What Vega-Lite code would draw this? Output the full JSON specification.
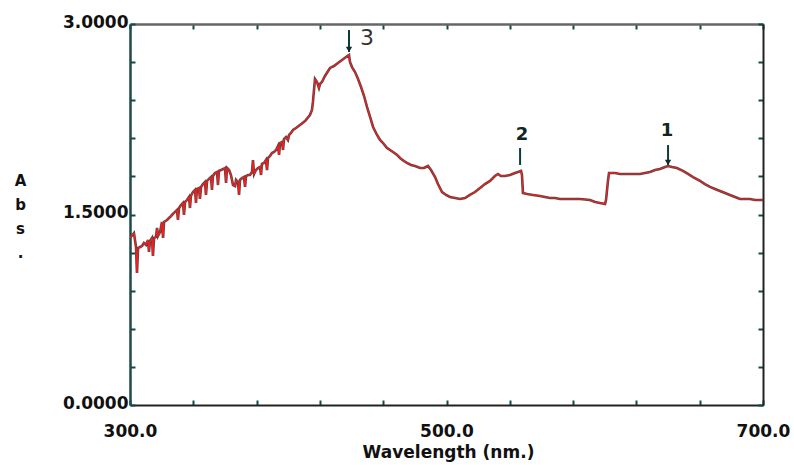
{
  "$schema": "https://vega.github.io/schema/vega-lite/v6.json",
  "width": 633,
  "height": 381,
  "autosize": "none",
  "padding": {"left": 130, "top": 24, "right": 31, "bottom": 60},
  "background": "white",
  "config": {"view": {"stroke": null}, "font": "DejaVu Sans"},
  "datasets": {
    "spec": [
      {"w":300.0,"a":1.315},{"w":302.5,"a":1.354},{"w":303.8,"a":1.244},{"w":304.4,"a":1.039},{"w":305.1,"a":1.236},
      {"w":307.6,"a":1.252},{"w":308.8,"a":1.276},{"w":310.1,"a":1.260},{"w":311.4,"a":1.299},{"w":312.0,"a":1.205},
      {"w":312.6,"a":1.291},{"w":313.9,"a":1.315},{"w":314.5,"a":1.173},{"w":315.2,"a":1.315},{"w":316.4,"a":1.323},
      {"w":317.1,"a":1.394},{"w":317.7,"a":1.331},{"w":319.0,"a":1.362},{"w":320.2,"a":1.441},{"w":320.9,"a":1.315},
      {"w":321.5,"a":1.441},{"w":323.4,"a":1.457},{"w":325.3,"a":1.480},{"w":326.5,"a":1.496},{"w":328.4,"a":1.520},
      {"w":329.7,"a":1.535},{"w":330.3,"a":1.457},{"w":331.0,"a":1.551},{"w":332.2,"a":1.575},{"w":333.5,"a":1.591},
      {"w":334.1,"a":1.496},{"w":334.8,"a":1.598},{"w":336.0,"a":1.614},{"w":337.3,"a":1.638},{"w":337.9,"a":1.551},
      {"w":338.5,"a":1.646},{"w":339.8,"a":1.677},{"w":341.1,"a":1.693},{"w":341.7,"a":1.591},{"w":342.3,"a":1.701},
      {"w":343.6,"a":1.709},{"w":344.2,"a":1.622},{"w":344.9,"a":1.717},{"w":346.1,"a":1.740},{"w":347.4,"a":1.756},
      {"w":348.0,"a":1.654},{"w":348.7,"a":1.764},{"w":349.9,"a":1.780},{"w":351.2,"a":1.795},{"w":351.8,"a":1.693},
      {"w":352.4,"a":1.803},{"w":353.7,"a":1.827},{"w":355.0,"a":1.835},{"w":355.6,"a":1.732},{"w":356.2,"a":1.843},
      {"w":357.5,"a":1.850},{"w":358.8,"a":1.858},{"w":360.0,"a":1.866},{"w":360.7,"a":1.748},{"w":361.3,"a":1.866},
      {"w":362.6,"a":1.850},{"w":363.8,"a":1.811},{"w":365.1,"a":1.732},{"w":366.4,"a":1.724},{"w":367.0,"a":1.772},
      {"w":368.2,"a":1.756},{"w":368.9,"a":1.654},{"w":369.5,"a":1.772},{"w":370.8,"a":1.787},{"w":372.0,"a":1.795},
      {"w":372.7,"a":1.717},{"w":373.3,"a":1.803},{"w":374.6,"a":1.811},{"w":375.8,"a":1.811},{"w":377.1,"a":1.835},
      {"w":377.7,"a":1.929},{"w":378.4,"a":1.819},{"w":379.6,"a":1.850},{"w":380.9,"a":1.866},{"w":382.1,"a":1.874},
      {"w":382.8,"a":1.811},{"w":383.4,"a":1.898},{"w":384.7,"a":1.906},{"w":385.9,"a":1.929},{"w":386.6,"a":1.850},
      {"w":387.2,"a":1.945},{"w":388.5,"a":1.961},{"w":389.7,"a":1.984},{"w":391.0,"a":1.992},{"w":392.3,"a":2.008},
      {"w":393.5,"a":2.039},{"w":394.2,"a":1.969},{"w":394.8,"a":2.063},{"w":396.0,"a":2.071},{"w":396.7,"a":2.008},
      {"w":397.3,"a":2.094},{"w":398.6,"a":2.110},{"w":399.8,"a":2.087},{"w":400.5,"a":2.126},{"w":401.7,"a":2.142},
      {"w":403.0,"a":2.165},{"w":404.9,"a":2.181},{"w":407.4,"a":2.205},{"w":410.6,"a":2.236},{"w":413.7,"a":2.283},
      {"w":415.0,"a":2.323},{"w":415.6,"a":2.386},{"w":416.9,"a":2.567},{"w":418.2,"a":2.543},{"w":419.4,"a":2.496},
      {"w":420.1,"a":2.528},{"w":421.3,"a":2.543},{"w":423.2,"a":2.591},{"w":426.4,"a":2.654},{"w":428.9,"a":2.669},
      {"w":431.4,"a":2.693},{"w":434.0,"a":2.717},{"w":436.5,"a":2.740},{"w":438.4,"a":2.756},{"w":439.0,"a":2.701},
      {"w":440.3,"a":2.661},{"w":442.2,"a":2.622},{"w":444.1,"a":2.567},{"w":446.0,"a":2.504},{"w":447.9,"a":2.433},
      {"w":449.8,"a":2.346},{"w":451.7,"a":2.268},{"w":453.6,"a":2.189},{"w":456.1,"a":2.126},{"w":458.0,"a":2.087},
      {"w":459.9,"a":2.063},{"w":462.4,"a":2.024},{"w":464.3,"a":2.008},{"w":466.2,"a":1.992},{"w":468.8,"a":1.969},
      {"w":470.6,"a":1.945},{"w":473.1,"a":1.921},{"w":475.0,"a":1.906},{"w":477.6,"a":1.890},{"w":480.1,"a":1.882},
      {"w":483.3,"a":1.866},{"w":485.8,"a":1.866},{"w":488.3,"a":1.882},{"w":490.2,"a":1.850},{"w":492.8,"a":1.795},
      {"w":494.6,"a":1.740},{"w":497.2,"a":1.677},{"w":499.7,"a":1.654},{"w":502.2,"a":1.638},{"w":505.4,"a":1.630},
      {"w":508.5,"a":1.622},{"w":511.7,"a":1.630},{"w":514.8,"a":1.654},{"w":518.0,"a":1.677},{"w":521.2,"a":1.709},
      {"w":524.3,"a":1.740},{"w":527.5,"a":1.764},{"w":530.6,"a":1.803},{"w":532.5,"a":1.819},{"w":534.4,"a":1.803},
      {"w":537.0,"a":1.803},{"w":540.1,"a":1.811},{"w":543.3,"a":1.827},{"w":545.2,"a":1.835},{"w":547.1,"a":1.843},
      {"w":547.7,"a":1.811},{"w":548.3,"a":1.669},{"w":550.9,"a":1.661},{"w":554.7,"a":1.654},{"w":559.1,"a":1.646},
      {"w":562.2,"a":1.638},{"w":565.4,"a":1.630},{"w":568.6,"a":1.630},{"w":571.7,"a":1.622},{"w":578.0,"a":1.622},
      {"w":584.4,"a":1.622},{"w":590.7,"a":1.614},{"w":593.9,"a":1.598},{"w":597.0,"a":1.591},{"w":600.2,"a":1.583},
      {"w":600.8,"a":1.614},{"w":602.1,"a":1.772},{"w":602.7,"a":1.827},{"w":606.5,"a":1.827},{"w":609.6,"a":1.819},
      {"w":616.0,"a":1.819},{"w":622.3,"a":1.819},{"w":625.4,"a":1.827},{"w":628.6,"a":1.835},{"w":631.8,"a":1.850},
      {"w":634.9,"a":1.858},{"w":638.1,"a":1.874},{"w":640.0,"a":1.882},{"w":642.5,"a":1.874},{"w":645.6,"a":1.866},
      {"w":649.4,"a":1.843},{"w":652.6,"a":1.819},{"w":655.8,"a":1.795},{"w":660.2,"a":1.764},{"w":663.3,"a":1.740},
      {"w":666.5,"a":1.717},{"w":669.7,"a":1.701},{"w":672.8,"a":1.685},{"w":676.0,"a":1.669},{"w":679.1,"a":1.654},
      {"w":682.3,"a":1.638},{"w":685.5,"a":1.622},{"w":688.6,"a":1.622},{"w":691.8,"a":1.622},{"w":695.0,"a":1.614},
      {"w":700.0,"a":1.614}
    ],
    "arrows": [
      {"w":438.4,"a":2.953,"a2":2.78},
      {"w":546.5,"a":2.024,"a2":1.89},
      {"w":640.0,"a":2.047,"a2":1.89}
    ],
    "heads": [
      {"w":438.4,"a":2.80},
      {"w":640.0,"a":1.91}
    ],
    "plain": [
      {"w":449.8,"a":2.886,"t":"3"}
    ],
    "boldlabels": [
      {"w":547.7,"a":2.126,"t":"2"},
      {"w":639.3,"a":2.161,"t":"1"}
    ]
  },
  "layer": [
    {
      "data": {"name": "spec"},
      "mark": {"type": "line", "color": "#4a4a4a", "strokeWidth": 2.6, "clip": true},
      "encoding": {
        "x": {
          "field": "w", "type": "quantitative",
          "scale": {"domain": [300, 700], "nice": false, "zero": false},
          "axis": {
            "orient": "bottom",
            "values": [300,340,380,420,460,500,540,580,620,660,700],
            "labelExpr": "datum.value == 300 || datum.value == 500 || datum.value == 700 ? format(datum.value, '.1f') : ''",
            "labelFont": "DejaVu Sans", "labelFontWeight": "bold", "labelFontSize": 17, "labelColor": "#111",
            "labelPadding": 23, "labelFlush": false, "labelOverlap": false,
            "tickSize": -5, "tickWidth": 2, "tickColor": "#0d4a4a",
            "domainColor": "#222", "domainWidth": 2,
            "grid": false,
            "title": "Wavelength (nm.)",
            "titleFont": "DejaVu Sans", "titleFontWeight": "bold", "titleFontSize": 17, "titleColor": "#111",
            "titleX": 318, "titleY": 47, "titleBaseline": "middle", "titleAlign": "center"
          }
        },
        "y": {
          "field": "a", "type": "quantitative",
          "scale": {"domain": [0, 3], "nice": false, "zero": true},
          "axis": {
            "orient": "left",
            "values": [0,0.3,0.6,0.9,1.2,1.5,1.8,2.1,2.4,2.7,3.0],
            "labelExpr": "datum.value == 0 || datum.value == 1.5 || datum.value == 3 ? format(datum.value, '.4f') : ''",
            "labelFont": "DejaVu Sans", "labelFontWeight": "bold", "labelFontSize": 17, "labelColor": "#111",
            "labelPadding": 7, "labelFlush": false, "labelOverlap": false, "labelOffset": -2,
            "tickSize": -5, "tickWidth": 2, "tickColor": "#0d4a4a",
            "domainColor": "#1f4a4a", "domainWidth": 2.5,
            "grid": false,
            "title": ["A", "b", "s", "."],
            "titleFont": "DejaVu Sans", "titleFontWeight": "bold", "titleFontSize": 15, "titleColor": "#111",
            "titleAngle": 0, "titleAlign": "center", "titleBaseline": "alphabetic", "titleLineHeight": 24,
            "titleX": -110, "titleY": 161
          }
        }
      }
    },
    {
      "data": {"name": "spec"},
      "mark": {"type": "line", "color": "#ff1a1a", "strokeWidth": 1.2, "clip": true},
      "encoding": {
        "x": {
          "field": "w", "type": "quantitative",
          "axis": {
            "orient": "top", "values": [300,340,380,420,460,500,540,580,620,660,700],
            "labels": false, "title": null, "grid": false,
            "tickSize": -5, "tickWidth": 2, "tickColor": "#0d4a4a",
            "domainColor": "#666", "domainWidth": 2.5
          }
        },
        "y": {
          "field": "a", "type": "quantitative",
          "axis": {
            "orient": "right", "values": [0,0.3,0.6,0.9,1.2,1.5,1.8,2.1,2.4,2.7,3.0],
            "labels": false, "title": null, "grid": false,
            "tickSize": -5, "tickWidth": 2, "tickColor": "#0d4a4a",
            "domainColor": "#222", "domainWidth": 2
          }
        }
      }
    },
    {
      "data": {"name": "arrows"},
      "mark": {"type": "rule", "color": "#0d3c3c", "strokeWidth": 2},
      "encoding": {
        "x": {"field": "w", "type": "quantitative", "axis": null},
        "y": {"field": "a", "type": "quantitative", "axis": null},
        "y2": {"field": "a2"}
      }
    },
    {
      "data": {"name": "heads"},
      "mark": {"type": "point", "shape": "triangle-down", "filled": true, "color": "#0d2c2c", "size": 40, "opacity": 1},
      "encoding": {
        "x": {"field": "w", "type": "quantitative", "axis": null},
        "y": {"field": "a", "type": "quantitative", "axis": null}
      }
    },
    {
      "data": {"name": "plain"},
      "mark": {"type": "text", "font": "DejaVu Sans", "color": "#333", "baseline": "middle", "align": "center", "fontSize": 22, "fontWeight": "normal"},
      "encoding": {
        "x": {"field": "w", "type": "quantitative", "axis": null},
        "y": {"field": "a", "type": "quantitative", "axis": null},
        "text": {"field": "t"}
      }
    },
    {
      "data": {"name": "boldlabels"},
      "mark": {"type": "text", "font": "DejaVu Sans", "color": "#102525", "baseline": "middle", "align": "center", "fontSize": 18, "fontWeight": "bold"},
      "encoding": {
        "x": {"field": "w", "type": "quantitative", "axis": null},
        "y": {"field": "a", "type": "quantitative", "axis": null},
        "text": {"field": "t"}
      }
    }
  ],
  "resolve": {"axis": {"x": "independent", "y": "independent"}}
}
